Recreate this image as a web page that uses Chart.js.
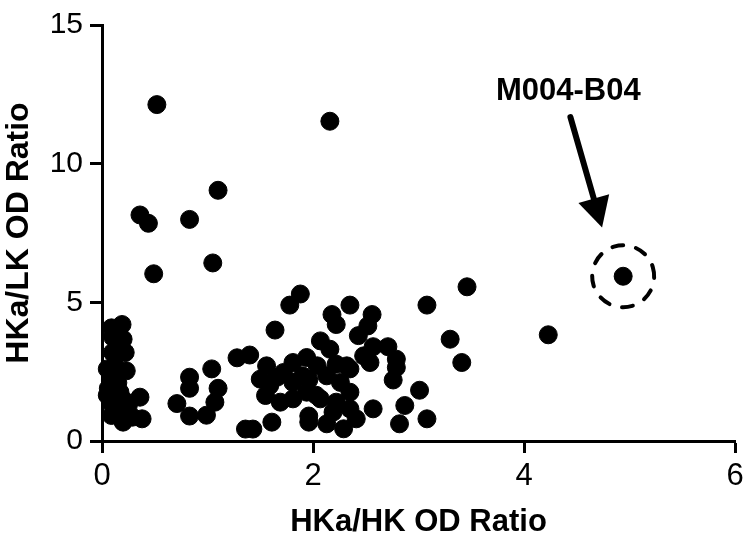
<!DOCTYPE html>
<html>
<head>
<meta charset="utf-8">
<script src="https://cdn.jsdelivr.net/npm/chart.js@4.4.1/dist/chart.umd.min.js"></script>
<style>
  html, body { margin: 0; padding: 0; background: #fff; }
  #wrap { width: 750px; height: 541px; }
</style>
</head>
<body>
<div id="wrap"><canvas id="myChart" width="750" height="541"></canvas></div>
<script>
// HKa/HK OD ratio (x) and HKa/LK OD ratio (y)
const hkRatio = [
  0.09, 0.19, 0.20, 0.10, 0.22, 0.10, 0.12, 0.23, 0.05, 0.08, 0.15, 0.17,
  0.05, 0.36, 0.08, 0.25, 0.15, 0.09, 0.29, 0.20, 0.38, 0.12, 0.20, 0.06,
  0.83, 0.83, 0.71, 0.83, 1.04, 1.10, 1.07, 0.99, 1.28, 1.40, 1.36, 1.43,
  1.56, 1.50, 1.59, 1.55, 1.69, 1.72, 1.81, 1.81, 1.94, 1.94, 2.04, 2.07,
  2.16, 2.13, 2.22, 2.32, 2.35, 2.07, 2.22, 2.19, 2.35, 1.96, 1.96, 2.13,
  2.29, 2.41, 1.61, 2.48, 2.54, 2.57, 2.43, 1.90, 1.66, 1.81, 1.96, 2.26,
  2.03,
  1.88, 1.78, 1.64, 2.18, 2.35, 2.56, 2.22, 2.52, 3.08, 3.30, 2.57, 2.71,
  2.79, 2.79, 2.35, 2.76, 3.01, 2.87, 3.08, 2.82,
  0.52, 2.16, 1.10, 0.36, 0.44, 0.83, 1.05, 0.49, 3.46, 4.23, 3.41
];
const lkRatio = [
  4.08, 4.20, 3.67, 3.75, 3.19, 3.19, 2.72, 2.53, 2.60, 2.23, 2.10, 1.76,
  1.65, 1.58, 1.40, 1.29, 1.20, 0.92, 0.86, 0.68, 0.80, 1.00, 1.50, 1.90,
  2.30, 1.90, 1.35, 0.90, 2.60, 1.90, 1.40, 0.93, 3.00, 3.10, 0.43, 0.43,
  2.71, 2.23, 2.00, 1.64, 1.40, 2.47, 2.83, 2.11, 3.01, 1.76, 2.71, 3.61,
  3.31, 2.35, 2.77, 2.71, 1.76, 1.52, 1.40, 1.04, 1.16, 0.68, 0.90, 0.62,
  0.44, 0.80, 0.68, 3.07, 2.83, 1.16, 3.80, 2.35, 2.30, 1.52, 2.20, 2.11,
  1.65,
  5.30, 4.90, 4.00, 4.56, 4.90, 4.56, 4.20, 4.15, 4.90, 3.67, 3.40, 3.40,
  2.95, 2.65, 2.60, 2.20, 1.83, 1.28, 0.80, 0.62,
  12.13, 11.53, 9.04, 8.15, 7.85, 7.99, 6.42, 6.03, 5.56, 3.83, 2.83
];

// highlighted clone
const hitLabel = "M004-B04";
const hitX = [4.94];
const hitY = [5.94];
// arrow and label anchor, in data units
const arrowFrom = [4.44, 11.68];
const arrowTo = [4.74, 7.7];
const labelAt = [4.42, 12.6];

const xTicks = [0, 2, 4, 6];
const yTicks = [0, 5, 10, 15];

const points = hkRatio.map((x, i) => ({ x: x, y: lkRatio[i] }));
const hitPoints = hitX.map((x, i) => ({ x: x, y: hitY[i] }));

const FONT = "'Liberation Sans', Arial, Helvetica, sans-serif";

const annotate = {
  id: 'annotate',
  afterDatasetsDraw(chart) {
    const { ctx, scales: { x, y } } = chart;
    ctx.save();
    // dashed ring around the highlighted point
    const cx = x.getPixelForValue(hitX[0]);
    const cy = y.getPixelForValue(hitY[0]);
    ctx.beginPath();
    ctx.setLineDash([11, 13]);
    ctx.lineWidth = 4;
    ctx.strokeStyle = '#000';
    ctx.lineCap = 'round';
    ctx.arc(cx, cy, 31, -0.3, Math.PI * 2 - 0.3);
    ctx.stroke();
    ctx.setLineDash([]);

    // arrow
    const x1 = x.getPixelForValue(arrowFrom[0]);
    const y1 = y.getPixelForValue(arrowFrom[1]);
    const x2 = x.getPixelForValue(arrowTo[0]);
    const y2 = y.getPixelForValue(arrowTo[1]);
    const ang = Math.atan2(y2 - y1, x2 - x1);
    const headLen = 30;
    const headHalf = 16;
    const bx = x2 - headLen * Math.cos(ang);
    const by = y2 - headLen * Math.sin(ang);
    ctx.beginPath();
    ctx.lineWidth = 6;
    ctx.lineCap = 'round';
    ctx.moveTo(x1, y1);
    ctx.lineTo(bx + 2 * Math.cos(ang), by + 2 * Math.sin(ang));
    ctx.stroke();
    ctx.beginPath();
    ctx.fillStyle = '#000';
    ctx.moveTo(x2, y2);
    ctx.lineTo(bx + headHalf * Math.sin(ang), by - headHalf * Math.cos(ang));
    ctx.lineTo(bx - headHalf * Math.sin(ang), by + headHalf * Math.cos(ang));
    ctx.closePath();
    ctx.fill();

    // label
    ctx.font = 'bold 31px ' + FONT;
    ctx.textAlign = 'center';
    ctx.textBaseline = 'middle';
    ctx.fillText(hitLabel, x.getPixelForValue(labelAt[0]), y.getPixelForValue(labelAt[1]));
    ctx.restore();
  }
};

const ctx = document.getElementById('myChart');
new Chart(ctx, {
  type: 'scatter',
  data: {
    datasets: [{
      data: points,
      backgroundColor: '#000',
      borderColor: '#000',
      borderWidth: 1,
      pointRadius: 9,
      pointHoverRadius: 9,
      clip: false
    }, {
      data: hitPoints,
      backgroundColor: '#000',
      borderColor: '#000',
      borderWidth: 1,
      pointRadius: 9,
      clip: false
    }]
  },
  plugins: [annotate],
  options: {
    responsive: false,
    animation: false,
    layout: { padding: { top: 18, right: 15, bottom: 0, left: 0 } },
    plugins: { legend: { display: false }, tooltip: { enabled: false } },
    scales: {
      x: {
        type: 'linear',
        min: 0,
        max: 6,
        afterFit: (s) => { s.height = 100; },
        afterBuildTicks: (s) => { s.ticks = xTicks.map(v => ({ value: v })); },
        ticks: { color: '#000', font: { size: 31, family: FONT }, padding: 5, maxRotation: 0 },
        grid: { drawOnChartArea: false, drawTicks: true, tickLength: 12, tickWidth: 3, tickColor: '#000' },
        border: { display: true, width: 3, color: '#000' },
        title: {
          display: true,
          text: 'HKa/HK OD Ratio',
          color: '#000',
          font: { size: 31, weight: 'bold', family: FONT },
          padding: { top: 0, bottom: 0 }
        }
      },
      y: {
        type: 'linear',
        min: 0,
        max: 15,
        afterFit: (s) => { s.width = 102; },
        afterBuildTicks: (s) => { s.ticks = yTicks.map(v => ({ value: v })); },
        ticks: { color: '#000', font: { size: 30, family: FONT }, padding: 7 },
        grid: { drawOnChartArea: false, drawTicks: true, tickLength: 12, tickWidth: 3, tickColor: '#000' },
        border: { display: true, width: 3, color: '#000' },
        title: {
          display: true,
          text: 'HKa/LK OD Ratio',
          color: '#000',
          font: { size: 32, weight: 'bold', family: FONT },
          padding: { top: 0, bottom: 0 }
        }
      }
    }
  }
});
</script>
</body>
</html>
